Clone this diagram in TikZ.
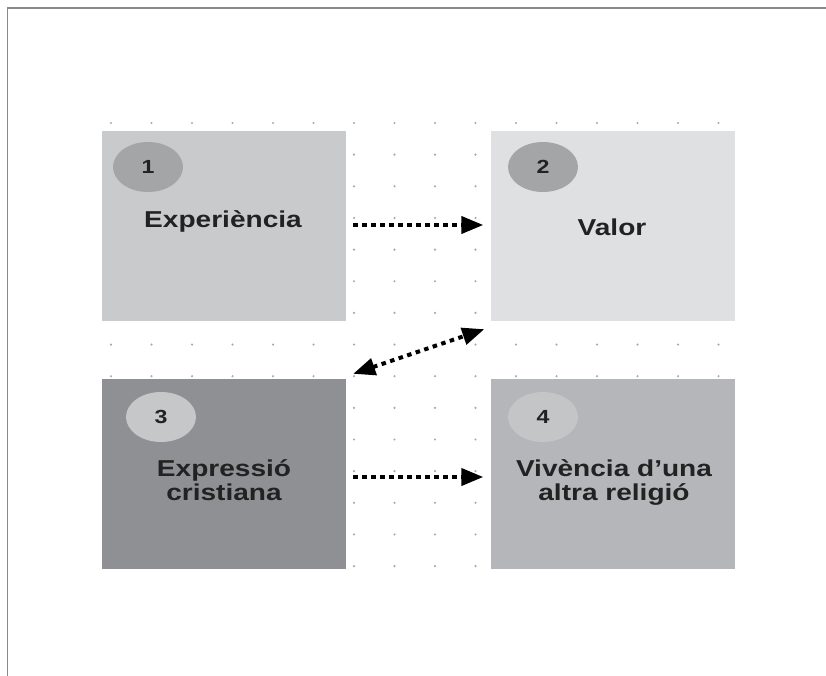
\documentclass[tikz,border=0pt]{standalone}
\usepackage{fontspec}
\newfontfamily\lab[FakeStretch=1.22]{Liberation Sans}
\usetikzlibrary{arrows.meta,shapes.geometric}
\definecolor{boxA}{HTML}{C9CACC}
\definecolor{boxB}{HTML}{DFE0E2}
\definecolor{boxC}{HTML}{8F9093}
\definecolor{boxD}{HTML}{B5B6B9}
\definecolor{circA}{HTML}{A4A5A7}
\definecolor{circC}{HTML}{C6C7C9}
\definecolor{circD}{HTML}{C4C5C7}
\definecolor{ink}{HTML}{222222}
\definecolor{dotc}{HTML}{A8A8A8}
\definecolor{framec}{HTML}{8A8A8A}
\tikzset{
  panel/.style={rectangle, inner sep=0pt, minimum width=244pt, minimum height=190pt, draw=none},
  badge/.style={ellipse, inner sep=0pt, minimum width=70pt, minimum height=50pt, draw=none},
  numtxt/.style={anchor=base, inner sep=0pt, text=ink, font=\lab\bfseries\fontsize{19}{19}\selectfont},
  labtxt/.style={anchor=base, inner sep=0pt, text=ink, align=center, font=\lab\bfseries\fontsize{23}{24}\selectfont},
  dotarrow/.style={draw=black, line width=4pt, dash pattern=on 4.5pt off 4.5pt},
}
\begin{document}
\begin{tikzpicture}[x=1pt,y=-1pt]
\useasboundingbox (0,0) rectangle (826,676);
% frame
\draw[framec, line width=1.6pt] (7.5,676) -- (7.5,8) -- (826,8);
% dot grid
\foreach \i in {0,...,15}{
  \foreach \j in {0,...,14}{
    \fill[dotc] ({111+40.5*\i},{123+31.65*\j}) circle (1.2pt);
  }
}
% panels
\node[panel, fill=boxA] (b1) at (224,226) {};
\node[panel, fill=boxB] (b2) at (612.5,226) {};
\node[panel, fill=boxC] (b3) at (224,474) {};
\node[panel, fill=boxD] (b4) at (612.5,474) {};
% badges
\node[badge, fill=circA] (c1) at (148,167) {};
\node[badge, fill=circA] (c2) at (543,167) {};
\node[badge, fill=circC] (c3) at (161,417) {};
\node[badge, fill=circD] (c4) at (543,417) {};
\node[numtxt] (n1) at (148,173.5) {1};
\node[numtxt] (n2) at (543,173.5) {2};
\node[numtxt] (n3) at (161,423.5) {3};
\node[numtxt] (n4) at (543,423.5) {4};
% labels
\node[labtxt] (t1) at (223,227) {Experiència};
\node[labtxt] (t2) at (612,235) {Valor};
\node[labtxt] (t3) at (224,500) {Expressió\\cristiana};
\node[labtxt] (t4) at (614,500) {Vivència d’una\\altra religió};
% connectors
\draw[dotarrow, -{Triangle[length=22pt,width=17pt]}]
  ([xshift=7pt,yshift=1pt]b1.east) -- ([xshift=-7pt,yshift=1pt]b2.west);
\draw[dotarrow, -{Triangle[length=22pt,width=17pt]}]
  ([xshift=7pt,yshift=-3pt]b3.east) -- ([xshift=-7pt,yshift=-3pt]b4.west);
\draw[dotarrow, {Triangle[length=22pt,width=17pt]}-{Triangle[length=22pt,width=17pt]}]
  ([shift={(7,-5)}]b3.north east) -- ([shift={(-6,8)}]b2.south west);
\end{tikzpicture}
\end{document}
